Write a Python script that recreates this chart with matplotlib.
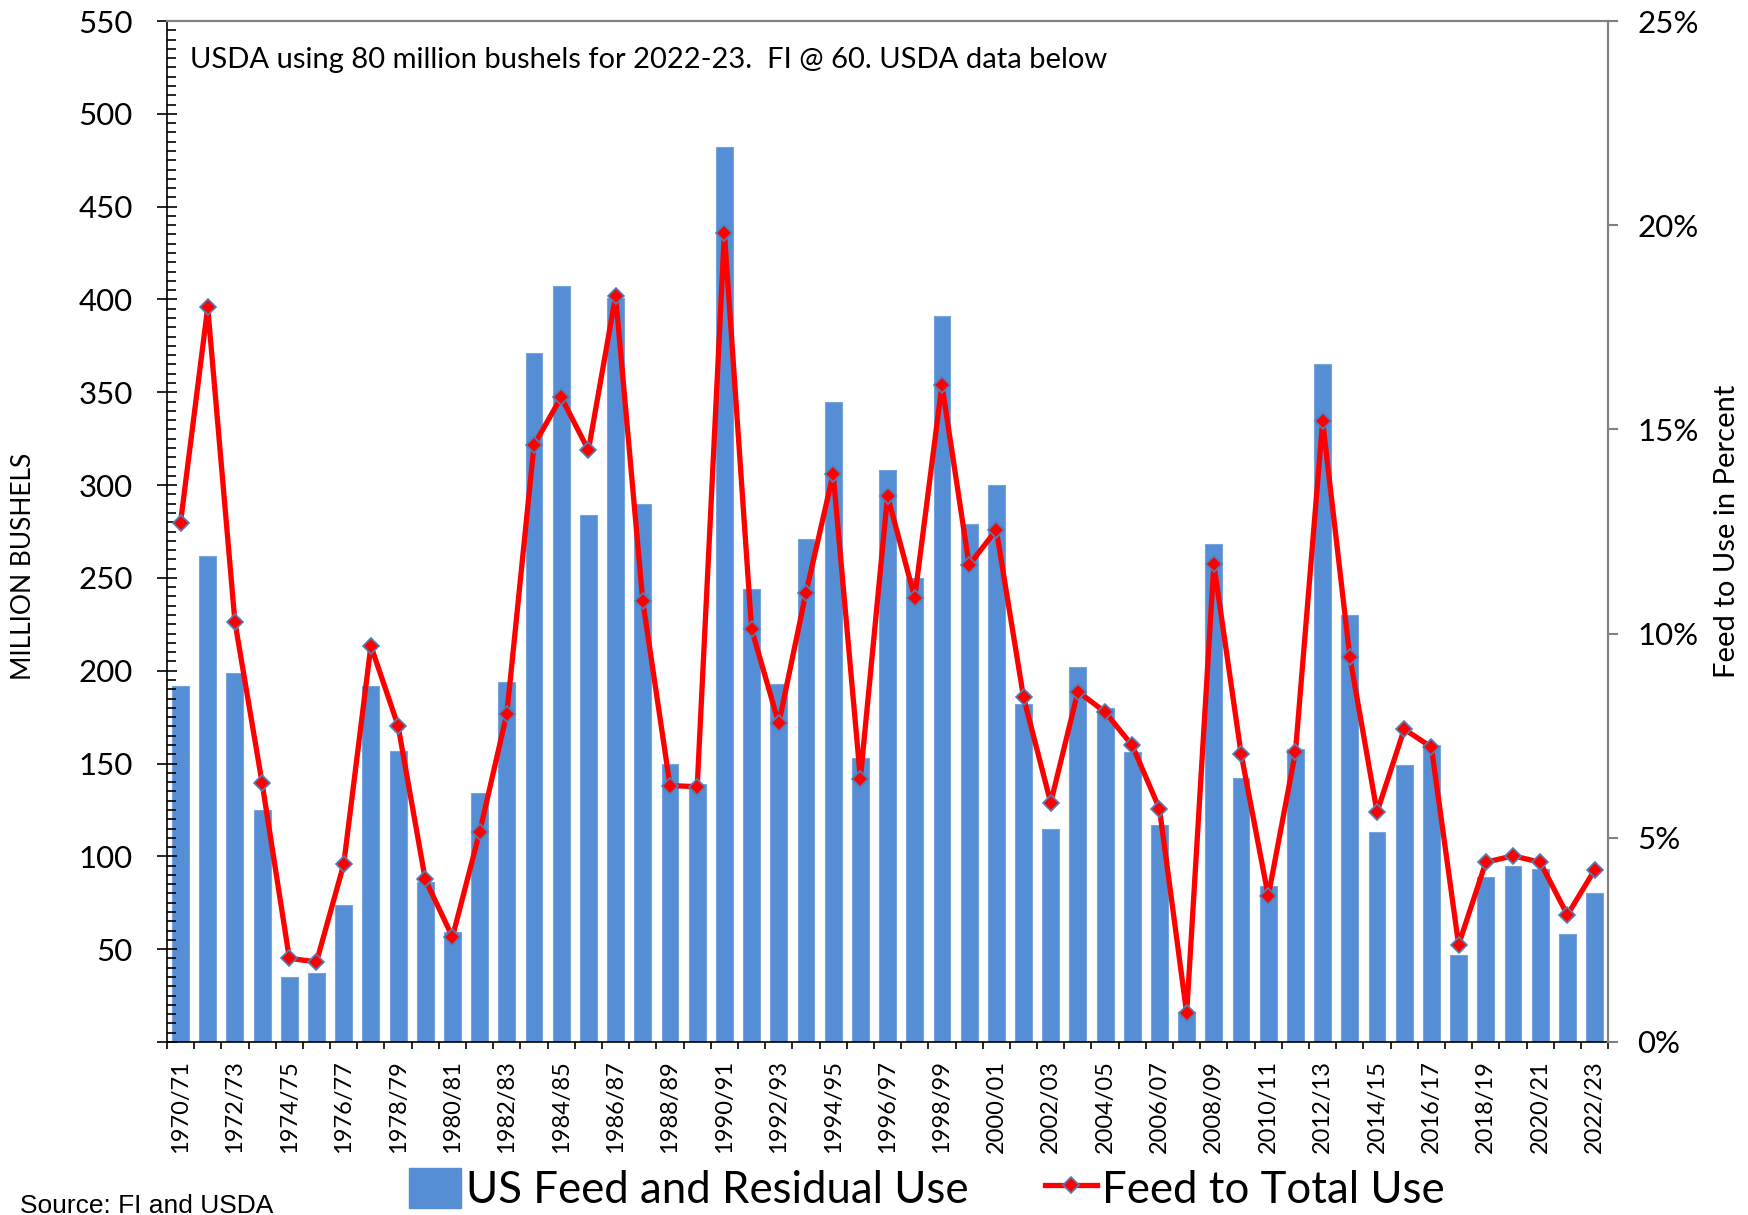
import numpy as np
import matplotlib
matplotlib.use("Agg")
import matplotlib.pyplot as plt
from matplotlib.ticker import MultipleLocator
from matplotlib.patches import Patch
from matplotlib.lines import Line2D

plt.rcParams['font.family'] = ['Lato', 'DejaVu Sans']

# marketing years 1970/71 .. 2022/23
years = ["%d/%02d" % (y, (y + 1) % 100) for y in range(1970, 2023)]

# US feed and residual use, million bushels
feed_use = [192, 262, 199, 125, 35, 37, 74, 192, 157, 86,
            59, 134, 194, 371, 407, 284, 401, 290, 150, 139,
            482, 244, 193, 271, 345, 153, 308, 250, 391, 279,
            300, 182, 115, 202, 180, 156, 117, 16, 268, 142,
            84, 158, 365, 230, 113, 149, 160, 47, 89, 95,
            93, 58, 80]

# feed to total use, percent
feed_pct = [12.72, 17.99, 10.29, 6.34, 2.05, 1.96, 4.35, 9.70, 7.74, 3.98,
            2.57, 5.14, 8.04, 14.62, 15.79, 14.49, 18.27, 10.79, 6.28, 6.25,
            19.82, 10.11, 7.80, 11.00, 13.91, 6.45, 13.37, 10.88, 16.09, 11.68,
            12.54, 8.44, 5.86, 8.58, 8.08, 7.26, 5.71, 0.70, 11.70, 7.06,
            3.57, 7.10, 15.20, 9.43, 5.63, 7.66, 7.22, 2.38, 4.40, 4.56,
            4.40, 3.11, 4.21]

note = "USDA using 80 million bushels for 2022-23.  FI @ 60. USDA data below"

bar_col = "#558ED5"
line_col = "#FF0000"
gray = "#808080"

fig = plt.figure(figsize=(17.48, 12.15), dpi=100)
ax = fig.add_axes([0.0955, 0.1424, 0.8245, 0.8403])
ax2 = ax.twinx()

x = np.arange(len(years))
ax.bar(x, feed_use, width=0.62, color=bar_col, edgecolor="#78A4DC", linewidth=0.8)
ax2.plot(x, feed_pct, color=line_col, lw=3.8, marker="D", ms=8.5,
         mfc=line_col, mec="#4F81BD", mew=1.2)

ax.set_xlim(-0.5, len(years) - 0.5)
ax.set_ylim(0, 550)
ax2.set_ylim(0, 25)

# left axis
yt = list(range(0, 551, 50))
ax.set_yticks(yt)
ax.set_yticklabels(["" if v == 0 else str(v) for v in yt])
ax.yaxis.set_minor_locator(MultipleLocator(5))
ax.tick_params(axis="y", which="major", direction="inout", length=15,
               width=1.2, labelsize=22.5, pad=17)
ax.tick_params(axis="y", which="minor", direction="in", length=6.5, width=1.2)
ax.set_ylabel("MILLION BUSHELS", fontsize=19)
ax.yaxis.set_label_coords(-0.091, 0.466)

# right axis
pt = list(range(0, 26, 5))
ax2.set_yticks(pt)
ax2.set_yticklabels(["%d%%" % v for v in pt])
ax2.tick_params(axis="y", direction="out", length=7, width=1.5, color=gray,
                labelsize=22.5, pad=14)
ax2.set_ylabel("Feed to Use in Percent", fontsize=21, labelpad=11)

# x axis: labels every other year, ticks between categories
ax.set_xticks(x[::2])
ax.set_xticklabels(years[::2], rotation=90, fontsize=17)
ax.set_xticks(np.arange(-0.5, len(years), 1), minor=True)
ax.tick_params(axis="x", which="major", length=0, pad=13)
ax.tick_params(axis="x", which="minor", direction="out", length=5, width=1.2)

for a in (ax, ax2):
    a.spines["top"].set_color(gray)
    a.spines["right"].set_color(gray)
    a.spines["right"].set_linewidth(1.5)
    a.spines["top"].set_linewidth(1.5)
ax.spines["left"].set_linewidth(1.2)
ax.spines["bottom"].set_linewidth(1.2)
ax2.spines["left"].set_visible(False)
ax2.spines["bottom"].set_visible(False)

ax.text(0.016, 0.962, note, transform=ax.transAxes, fontsize=21, va="center")

handles = [Patch(facecolor=bar_col, edgecolor=bar_col),
           Line2D([], [], color=line_col, lw=3.8, marker="D", ms=8.5,
                  mfc=line_col, mec="#4F81BD", mew=1.2)]
fig.legend(handles, ["US Feed and Residual Use", "Feed to Total Use"],
           loc="center", bbox_to_anchor=(0.53, 0.021), ncol=2, frameon=False,
           fontsize=31.5, handlelength=1.2, handleheight=1.05,
           handletextpad=0.1, columnspacing=1.75, borderpad=0)

fig.text(20 / 1748, 0.0016, "Source: FI and USDA", family=["Liberation Sans"],
         fontsize=19, va="baseline")

fig.savefig("out.png", dpi=100)
